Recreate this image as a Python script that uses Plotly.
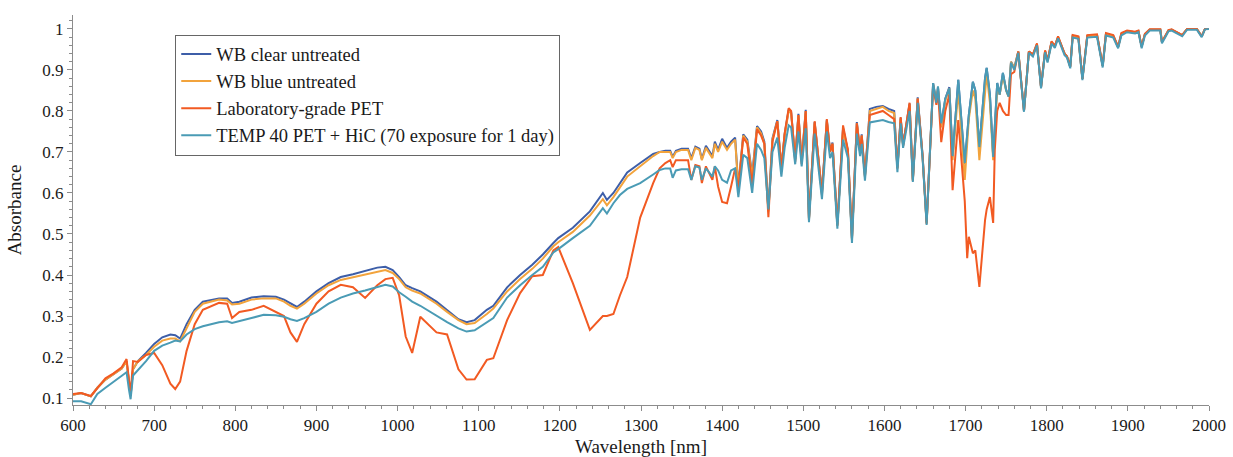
import plotly.graph_objects as go

wavelength = [
    600, 610, 622, 630, 640, 650, 660, 666, 669, 671,
    674, 680, 690, 700, 710, 720, 726, 732, 740, 750,
    760, 780, 790, 796, 805, 820, 835, 850, 860, 868,
    876, 885, 900, 915, 930, 945, 960, 975, 985, 994,
    1002, 1010, 1018, 1028, 1048, 1061, 1075, 1085, 1095, 1110,
    1118, 1135, 1151, 1166, 1179, 1192, 1198, 1216, 1237, 1253,
    1258, 1266, 1274, 1283, 1299, 1315, 1323, 1330, 1336, 1339,
    1343, 1350, 1358, 1362, 1367, 1372, 1375, 1380, 1388, 1391,
    1395, 1400, 1406, 1411, 1416, 1420, 1426, 1431, 1437, 1443,
    1448, 1452, 1457, 1462, 1468, 1473, 1477, 1482, 1485, 1490,
    1494, 1498, 1503, 1507, 1514, 1523, 1529, 1533, 1536, 1542,
    1549, 1555, 1560, 1566, 1570, 1572, 1576, 1582, 1590, 1598,
    1605, 1612, 1616, 1620, 1623, 1631, 1635, 1641, 1647, 1652,
    1660, 1664, 1666, 1670, 1675, 1680, 1684, 1691, 1699, 1702,
    1704, 1709, 1712, 1717, 1724, 1726, 1730, 1734, 1736, 1739,
    1742, 1746, 1750, 1753, 1756, 1760, 1765, 1772, 1778, 1783,
    1788, 1793, 1798, 1801, 1806, 1810, 1814, 1822, 1825, 1829,
    1832, 1839, 1844, 1850, 1862, 1869, 1873, 1882, 1888, 1892,
    1899, 1909, 1913, 1917, 1921, 1927, 1940, 1942, 1950, 1954,
    1967, 1973, 1985, 1991, 1995, 2000,
]

wb_clear = [
    .108, .112, .104, .125, .145, .158, .172, .19, .13, .105,
    .17, .19, .21, .232, .248, .255, .253, .245, .28, .315,
    .335, .343, .343, .332, .335, .345, .348, .347, .34, .33,
    .322, .335, .36, .38, .395, .402, .41, .418, .42, .412,
    .395, .375, .368, .36, .335, .315, .292, .285, .29, .315,
    .325, .37, .40, .425, .45, .478, .49, .515, .555, .60,
    .583, .60, .624, .65, .673, .695, .70, .703, .703, .688,
    .703, .708, .708, .685, .713, .708, .683, .715, .69, .725,
    .705, .732, .71, .725, .735, .615, .743, .73, .645, .763,
    .75, .725, .56, .733, .778, .663, .743, .803, .798, .683,
    .793, .678, .803, .538, .773, .603, .778, .703, .723, .523,
    .758, .703, .488, .773, .703, .743, .643, .805, .81, .812,
    .805, .80, .663, .783, .718, .818, .633, .833, .693, .528,
    .868, .823, .858, .765, .83, .858, .69, .876, .67, .75,
    .79, .871, .85, .71, .88, .905, .84, .69, .75, .868,
    .84, .893, .852, .837, .92, .905, .945, .80, .945, .937,
    .963, .858, .946, .922, .968, .958, .98, .94, .933, .908,
    .983, .98, .878, .983, .985, .91, .988, .983, .956, .988,
    .995, .992, .995, .957, .987, .998, .998, .968, .996, .998,
    .985, 1.0, 1.0, .982, 1.0, 1.0,
]

wb_blue = [
    .108, .112, .104, .125, .145, .158, .172, .19, .13, .105,
    .17, .19, .205, .225, .24, .245, .245, .238, .27, .31,
    .33, .34, .338, .328, .33, .34, .343, .343, .335, .325,
    .318, .33, .355, .375, .388, .395, .402, .408, .412, .405,
    .39, .37, .362, .355, .33, .31, .29, .28, .283, .305,
    .318, .36, .39, .415, .44, .47, .48, .505, .545, .585,
    .57, .59, .615, .64, .665, .69, .70, .70, .70, .685,
    .70, .705, .705, .68, .71, .705, .68, .71, .685, .72,
    .70, .725, .705, .72, .73, .61, .74, .725, .64, .76,
    .745, .72, .555, .73, .775, .66, .74, .80, .795, .68,
    .79, .675, .80, .535, .77, .60, .775, .70, .72, .52,
    .755, .70, .485, .77, .70, .74, .64, .80, .805, .81,
    .80, .795, .66, .78, .715, .815, .63, .83, .69, .525,
    .865, .82, .855, .76, .825, .855, .68, .85, .632, .74,
    .78, .85, .83, .68, .85, .89, .82, .68, .74, .86,
    .84, .885, .85, .835, .92, .905, .945, .80, .945, .937,
    .963, .858, .946, .922, .968, .958, .98, .94, .933, .908,
    .983, .98, .878, .983, .985, .91, .988, .983, .956, .988,
    .995, .992, .995, .957, .987, .998, .998, .968, .996, .998,
    .985, 1.0, 1.0, .982, 1.0, 1.0,
]

lab_pet = [
    .110, .112, .105, .125, .148, .16, .175, .195, .14, .11,
    .19, .188, .205, .21, .18, .135, .122, .14, .215, .28,
    .315, .332, .33, .295, .31, .315, .325, .31, .30, .26,
    .237, .28, .33, .36, .376, .37, .344, .375, .39, .393,
    .35, .25, .21, .298, .26, .255, .17, .145, .146, .193,
    .197, .29, .356, .397, .40, .46, .468, .38, .266, .30,
    .30, .305, .35, .395, .54, .624, .66, .673, .68, .663,
    .68, .68, .68, .632, .668, .665, .624, .665, .632, .665,
    .616, .578, .575, .616, .66, .61, .735, .72, .62, .755,
    .74, .72, .541, .725, .775, .655, .745, .807, .80, .676,
    .79, .67, .80, .535, .775, .595, .78, .70, .72, .52,
    .765, .705, .49, .77, .70, .74, .64, .79, .795, .80,
    .79, .78, .66, .785, .715, .82, .63, .83, .69, .525,
    .86, .815, .85, .724, .80, .84, .607, .778, .58, .441,
    .493, .453, .46, .371, .534, .56, .59, .527, .705, .80,
    .82, .80, .79, .79, .89, .895, .945, .80, .945, .938,
    .965, .858, .948, .922, .97, .958, .982, .94, .933, .908,
    .985, .982, .878, .985, .987, .91, .99, .985, .956, .99,
    .996, .993, .996, .957, .988, .999, .999, .968, .997, .999,
    .985, 1.0, 1.0, .982, 1.0, 1.0,
]

temp40 = [
    .092, .092, .085, .11, .125, .14, .155, .163, .12, .097,
    .155, .168, .19, .215, .228, .235, .24, .238, .255, .268,
    .275, .285, .287, .283, .287, .295, .303, .302, .298, .292,
    .288, .295, .31, .33, .345, .355, .362, .37, .376, .372,
    .358, .347, .335, .325, .30, .285, .27, .262, .265, .285,
    .295, .345, .375, .40, .42, .455, .463, .49, .52, .563,
    .55, .575, .595, .61, .624, .645, .656, .66, .66, .637,
    .655, .658, .658, .632, .665, .662, .632, .66, .64, .665,
    .655, .632, .625, .655, .66, .59, .693, .685, .60, .72,
    .705, .685, .56, .70, .735, .64, .71, .765, .76, .67,
    .75, .665, .758, .529, .745, .585, .75, .685, .70, .513,
    .73, .685, .478, .745, .69, .72, .63, .772, .775, .778,
    .773, .77, .651, .77, .71, .80, .627, .82, .685, .522,
    .868, .82, .86, .77, .83, .855, .69, .876, .673, .75,
    .79, .871, .85, .712, .88, .905, .84, .688, .75, .868,
    .84, .893, .85, .835, .918, .90, .942, .798, .942, .933,
    .96, .855, .943, .918, .964, .954, .977, .936, .93, .904,
    .979, .976, .875, .979, .981, .906, .984, .979, .953, .984,
    .992, .989, .992, .953, .984, .996, .996, .965, .994, .996,
    .982, .998, .998, .98, .999, 1.0,
]

series_names = [
    "WB clear untreated",
    "WB blue untreated",
    "Laboratory-grade PET",
    "TEMP 40 PET + HiC (70 exposure for 1 day)",
]
series_values = [wb_clear, wb_blue, lab_pet, temp40]
series_colors = ["#3d5ea8", "#f2a33c", "#f25a22", "#4a9bb5"]

x_ticks = [600, 700, 800, 900, 1000, 1100, 1200, 1300, 1400, 1500, 1600, 1700, 1800, 1900, 2000]
y_ticks = [0.1, 0.2, 0.3, 0.4, 0.5, 0.6, 0.7, 0.8, 0.9, 1.0]
y_tick_text = ["0.1", "0.2", "0.3", "0.4", "0.5", "0.6", "0.7", "0.8", "0.9", "1"]

fig = go.Figure()
for name, vals, col in zip(series_names, series_values, series_colors):
    fig.add_trace(go.Scatter(x=wavelength, y=vals, mode="lines", name=name,
                             line=dict(color=col, width=2)))

font_family = "Liberation Serif"
axis_col = "#8c8c8c"
text_col = "#1a1a1a"

fig.update_layout(
    width=1233, height=457,
    margin=dict(l=73, r=24, t=15, b=52),
    paper_bgcolor="white", plot_bgcolor="white",
    font=dict(family=font_family, size=17, color=text_col),
    showlegend=True,
    legend=dict(
        x=0.09, y=0.95, xanchor="left", yanchor="top",
        bgcolor="white", bordercolor="#666666", borderwidth=1,
        font=dict(family=font_family, size=18.5, color=text_col),
        tracegroupgap=0, itemwidth=30,
    ),
)
fig.update_xaxes(
    range=[600, 2000], tickmode="array", tickvals=x_ticks,
    automargin=False,
    showline=True, linecolor=axis_col, linewidth=1,
    ticks="outside", ticklen=5, tickcolor=axis_col,
    minor=dict(dtick=20, ticks="outside", ticklen=3, tickcolor=axis_col, showgrid=False),
    showgrid=False, zeroline=False,
    title=dict(text="Wavelength [nm]", font=dict(family=font_family, size=19, color=text_col), standoff=5),
    tickfont=dict(family=font_family, size=17, color=text_col),
)
fig.update_yaxes(
    range=[0.083, 1.034], tickmode="array", tickvals=y_ticks, ticktext=y_tick_text,
    automargin=False,
    showline=True, linecolor=axis_col, linewidth=1,
    ticks="outside", ticklen=5, tickcolor=axis_col,
    minor=dict(dtick=0.02, tick0=0, ticks="outside", ticklen=3, tickcolor=axis_col, showgrid=False),
    showgrid=False, zeroline=False,
    title=dict(text="Absorbance", font=dict(family=font_family, size=19, color=text_col), standoff=15),
    tickfont=dict(family=font_family, size=17, color=text_col),
)

fig.write_html("out.html")
